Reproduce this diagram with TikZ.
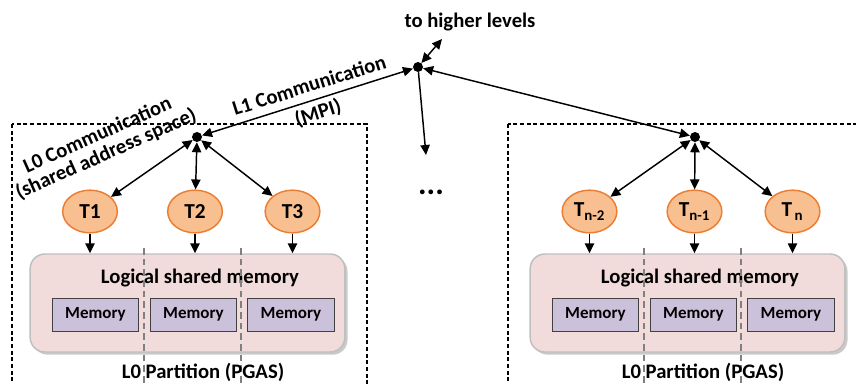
\documentclass[tikz,border=0pt]{standalone}
\usepackage{fontspec}
\setmainfont{Carlito}
\usetikzlibrary{arrows.meta,positioning,shapes.geometric,shadows}
\definecolor{threadFill}{HTML}{F8C090}
\definecolor{threadLine}{HTML}{ED7D31}
\definecolor{sharedFill}{HTML}{F2DCDB}
\definecolor{sharedLine}{HTML}{BFBFBF}
\definecolor{memFill}{HTML}{CCC1DA}
\definecolor{memLine}{HTML}{404040}
\definecolor{splitGray}{HTML}{808080}

\begin{document}
\begin{tikzpicture}[
    x=0.75pt, y=-0.75pt,
    label/.style={font=\fontsize{15.5}{15.5}\selectfont\bfseries, align=center, inner sep=0pt},
    thread/.style={ellipse, draw=threadLine, fill=threadFill, line width=1.1pt, minimum width=41pt, minimum height=32pt, inner sep=0pt, font=\fontsize{16}{16}\selectfont\bfseries},
    shared/.style={rectangle, rounded corners=11pt, draw=sharedLine, fill=sharedFill, line width=1.1pt, minimum width=236pt, minimum height=73.5pt, drop shadow={shadow xshift=2pt, shadow yshift=-2pt, opacity=0.35, fill=black!60}},
    mem/.style={rectangle, draw=memLine, fill=memFill, line width=0.7pt, minimum width=65pt, minimum height=24.75pt, font=\fontsize{12.75}{14}\selectfont\bfseries},
    hub/.style={circle, fill=black, minimum size=7.5pt, inner sep=0pt},
    link/.style={{Triangle[length=7.5pt,width=7pt]}-{Triangle[length=7.5pt,width=7pt]}, line width=1.1pt},
    down/.style={-{Triangle[length=7.5pt,width=7pt]}, line width=1.1pt},
    partition/.style={dash pattern=on 3pt off 2pt, line width=0.9pt},
    split/.style={draw=splitGray, dash pattern=on 5pt off 3pt, line width=1.1pt}
  ]
  \useasboundingbox (0,0) rectangle (856,383);
  \clip (0,0) rectangle (856,383);

  % partitions
  \draw[partition] (12,124) rectangle (367,400);
  \draw[partition] (508,124) rectangle (870,400);

  % left partition
  \node[shared] (sharedL) at (187.5,303) {};
  \node[label] (titleL) at (200,278) {Logical shared memory};
  \node[mem] (memL1) at (95.5,314.5) {Memory};
  \node[mem] (memL2) at (193.5,314.5) {Memory};
  \node[mem] (memL3) at (291,314.5) {Memory};
  \draw[split] (144,248) -- (144,390);
  \draw[split] (241,248) -- (241,390);
  \node[label] (pgasL) at (203,372) {L0 Partition (PGAS)};

  % right partition
  \node[shared] (sharedR) at (687.5,303) {};
  \node[label] (titleR) at (700,278) {Logical shared memory};
  \node[mem] (memR1) at (595.5,314.5) {Memory};
  \node[mem] (memR2) at (693.5,314.5) {Memory};
  \node[mem] (memR3) at (791,314.5) {Memory};
  \draw[split] (644,248) -- (644,390);
  \draw[split] (741,248) -- (741,390);
  \node[label] (pgasR) at (703,372) {L0 Partition (PGAS)};

  % threads
  \node[thread] (t1) at (90,211.5) {T1};
  \node[thread] (t2) at (195,211.5) {T2};
  \node[thread] (t3) at (292.5,211.5) {T3};
  \node[thread] (tn2) at (589.5,211.5) {T\textsubscript{n-2}};
  \node[thread] (tn1) at (694.5,211.5) {T\textsubscript{n-1}};
  \node[thread] (tn) at (792.5,211.5) {T\textsubscript{\,n}};

  % hubs
  \node[hub] (hubL) at (197,137) {};
  \node[hub] (hubR) at (695,137) {};
  \node[hub] (hubTop) at (418,67) {};
  \coordinate (upEnd) at (442,39);
  \coordinate (downEnd) at (426,155);

  \node[label] (higher) at (470,22) {to higher levels};
  \node[label, font=\fontsize{24}{24}\selectfont\bfseries] (dots) at (431,192) {...};
  \node[label, rotate=24] (l0lbl) at (102,145) {L0 Communication\\(shared address space)};

  % connections
  \draw[link] (hubL) -- (hubTop)
    node[label, sloped, pos=0.53] (l1lbl) {L1 Communication\\[6pt](MPI)};
  \draw[link] (hubTop) -- (hubR);
  \draw[link] (hubTop) -- (upEnd);
  \draw[down] (hubTop) -- (downEnd);
  \draw[link] (hubL) -- (t1);
  \draw[link] (hubL) -- (t2);
  \draw[link] (hubL) -- (t3);
  \draw[link] (hubR) -- (tn2);
  \draw[link] (hubR) -- (tn1);
  \draw[link] (hubR) -- (tn);
  \draw[down] (t1) -- (t1 |- sharedL.north);
  \draw[down] (t2) -- (t2 |- sharedL.north);
  \draw[down] (t3) -- (t3 |- sharedL.north);
  \draw[down] (tn2) -- (tn2 |- sharedR.north);
  \draw[down] (tn1) -- (tn1 |- sharedR.north);
  \draw[down] (tn) -- (tn |- sharedR.north);
\end{tikzpicture}
\end{document}
